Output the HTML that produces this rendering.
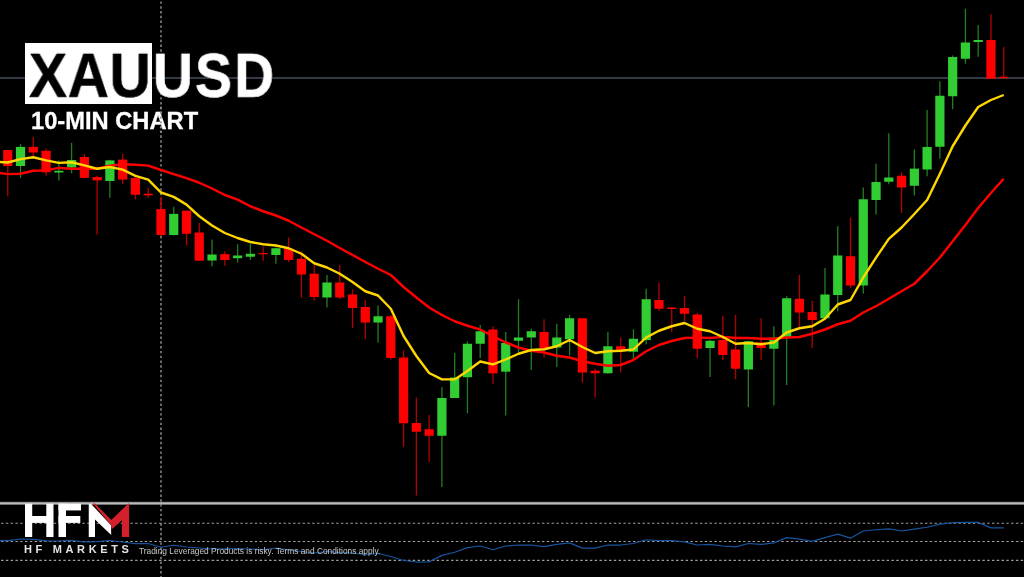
<!DOCTYPE html>
<html><head><meta charset="utf-8"><title>XAUUSD</title>
<style>
html,body{margin:0;padding:0;background:#000;}
body{width:1024px;height:577px;overflow:hidden;position:relative;font-family:"Liberation Sans",sans-serif;}
svg{position:absolute;left:0;top:0;}
.box{position:absolute;left:24.7px;top:43px;width:127.7px;height:60.6px;background:#fff;}
.t{position:absolute;font-weight:bold;white-space:nowrap;line-height:1;transform-origin:0 0;transform:translateZ(0);will-change:transform;}
#xau{left:28.5px;top:45.1px;font-size:60px;color:#000;-webkit-text-stroke:0.5px #000;letter-spacing:0.7px;transform:scale(0.95,1.043);}
#usd{left:152.6px;top:45.1px;font-size:60px;color:#fff;-webkit-text-stroke:0.6px #fff;letter-spacing:2.4px;transform:scale(0.92,1.043);}
#sub{left:30.9px;top:109.7px;font-size:23.7px;color:#fff;-webkit-text-stroke:0.3px #fff;}
#hfm{left:23.8px;top:543.8px;font-size:11px;color:#e4e4e4;letter-spacing:3.65px;}
#disc{left:138.6px;top:546.6px;font-size:8.35px;color:#c8c8c8;font-weight:normal;}
</style></head><body>
<svg width="1024" height="577" viewBox="0 0 1024 577">
<defs><clipPath id="low"><rect x="0" y="500" width="1024" height="77"/></clipPath></defs>
<rect width="1024" height="577" fill="#000"/>
<line x1="0" y1="78" x2="1024" y2="78" stroke="#66748a" stroke-width="1.05"/>
<line x1="161" y1="0" x2="161" y2="577" stroke="#8c8c8c" stroke-width="1.5" stroke-dasharray="2.4 2.387" stroke-dashoffset="-1.46"/>
<line x1="7.75" y1="150.00" x2="7.75" y2="196.25" stroke="#b40000" stroke-width="1.3"/>
<rect x="3.15" y="150.00" width="9.2" height="16.00" fill="#ff0000"/>
<line x1="20.52" y1="144.10" x2="20.52" y2="177.90" stroke="#208020" stroke-width="1.3"/>
<rect x="15.92" y="146.90" width="9.2" height="19.10" fill="#32cd32"/>
<line x1="33.29" y1="137.00" x2="33.29" y2="156.00" stroke="#b40000" stroke-width="1.3"/>
<rect x="28.69" y="146.90" width="9.2" height="5.60" fill="#ff0000"/>
<line x1="46.06" y1="148.25" x2="46.06" y2="175.75" stroke="#b40000" stroke-width="1.3"/>
<rect x="41.46" y="150.75" width="9.2" height="21.50" fill="#ff0000"/>
<line x1="58.83" y1="160.40" x2="58.83" y2="180.40" stroke="#208020" stroke-width="1.3"/>
<rect x="54.23" y="170.75" width="9.2" height="1.75" fill="#32cd32"/>
<line x1="71.59" y1="142.90" x2="71.59" y2="173.25" stroke="#208020" stroke-width="1.3"/>
<rect x="67.00" y="160.00" width="9.2" height="7.50" fill="#32cd32"/>
<line x1="84.36" y1="154.10" x2="84.36" y2="177.90" stroke="#b40000" stroke-width="1.3"/>
<rect x="79.76" y="157.00" width="9.2" height="20.90" fill="#ff0000"/>
<line x1="97.13" y1="175.75" x2="97.13" y2="234.50" stroke="#b40000" stroke-width="1.3"/>
<rect x="92.53" y="177.00" width="9.2" height="3.40" fill="#ff0000"/>
<line x1="109.90" y1="159.75" x2="109.90" y2="197.70" stroke="#208020" stroke-width="1.3"/>
<rect x="105.30" y="160.40" width="9.2" height="20.60" fill="#32cd32"/>
<line x1="122.67" y1="154.00" x2="122.67" y2="184.30" stroke="#b40000" stroke-width="1.3"/>
<rect x="118.07" y="159.60" width="9.2" height="20.00" fill="#ff0000"/>
<line x1="135.44" y1="177.00" x2="135.44" y2="199.40" stroke="#b40000" stroke-width="1.3"/>
<rect x="130.84" y="178.10" width="9.2" height="16.65" fill="#ff0000"/>
<line x1="148.21" y1="188.10" x2="148.21" y2="197.75" stroke="#b40000" stroke-width="1.3"/>
<rect x="143.61" y="193.75" width="9.2" height="1.65" fill="#ff0000"/>
<line x1="160.98" y1="197.20" x2="160.98" y2="236.00" stroke="#b40000" stroke-width="1.7"/>
<rect x="156.38" y="209.10" width="9.2" height="25.90" fill="#ff0000"/>
<line x1="173.75" y1="206.80" x2="173.75" y2="235.50" stroke="#208020" stroke-width="1.3"/>
<rect x="169.15" y="213.90" width="9.2" height="21.10" fill="#32cd32"/>
<line x1="186.52" y1="210.70" x2="186.52" y2="245.50" stroke="#b40000" stroke-width="1.3"/>
<rect x="181.92" y="210.70" width="9.2" height="23.05" fill="#ff0000"/>
<line x1="199.28" y1="223.00" x2="199.28" y2="260.75" stroke="#b40000" stroke-width="1.3"/>
<rect x="194.69" y="232.50" width="9.2" height="28.25" fill="#ff0000"/>
<line x1="212.05" y1="239.50" x2="212.05" y2="266.25" stroke="#208020" stroke-width="1.3"/>
<rect x="207.45" y="254.50" width="9.2" height="6.00" fill="#32cd32"/>
<line x1="224.82" y1="251.25" x2="224.82" y2="265.75" stroke="#b40000" stroke-width="1.3"/>
<rect x="220.22" y="254.10" width="9.2" height="5.90" fill="#ff0000"/>
<line x1="237.59" y1="244.25" x2="237.59" y2="262.50" stroke="#208020" stroke-width="1.3"/>
<rect x="232.99" y="255.50" width="9.2" height="2.75" fill="#32cd32"/>
<line x1="250.36" y1="243.75" x2="250.36" y2="260.00" stroke="#208020" stroke-width="1.3"/>
<rect x="245.76" y="253.75" width="9.2" height="3.00" fill="#32cd32"/>
<line x1="263.13" y1="246.25" x2="263.13" y2="260.75" stroke="#b40000" stroke-width="1.3"/>
<rect x="258.53" y="253.00" width="9.2" height="1.25" fill="#ff0000"/>
<line x1="275.90" y1="247.50" x2="275.90" y2="263.75" stroke="#208020" stroke-width="1.3"/>
<rect x="271.30" y="248.25" width="9.2" height="6.75" fill="#32cd32"/>
<line x1="288.67" y1="237.50" x2="288.67" y2="262.00" stroke="#b40000" stroke-width="1.3"/>
<rect x="284.07" y="248.75" width="9.2" height="11.25" fill="#ff0000"/>
<line x1="301.44" y1="251.25" x2="301.44" y2="298.00" stroke="#b40000" stroke-width="1.3"/>
<rect x="296.84" y="258.75" width="9.2" height="15.75" fill="#ff0000"/>
<line x1="314.21" y1="265.00" x2="314.21" y2="300.75" stroke="#b40000" stroke-width="1.3"/>
<rect x="309.61" y="273.75" width="9.2" height="23.25" fill="#ff0000"/>
<line x1="326.98" y1="275.00" x2="326.98" y2="307.50" stroke="#208020" stroke-width="1.3"/>
<rect x="322.38" y="282.50" width="9.2" height="15.00" fill="#32cd32"/>
<line x1="339.74" y1="265.00" x2="339.74" y2="299.25" stroke="#b40000" stroke-width="1.3"/>
<rect x="335.14" y="282.50" width="9.2" height="15.00" fill="#ff0000"/>
<line x1="352.51" y1="289.50" x2="352.51" y2="328.00" stroke="#b40000" stroke-width="1.3"/>
<rect x="347.91" y="294.50" width="9.2" height="13.50" fill="#ff0000"/>
<line x1="365.28" y1="300.00" x2="365.28" y2="339.25" stroke="#b40000" stroke-width="1.3"/>
<rect x="360.68" y="307.00" width="9.2" height="15.50" fill="#ff0000"/>
<line x1="378.05" y1="305.50" x2="378.05" y2="342.50" stroke="#208020" stroke-width="1.3"/>
<rect x="373.45" y="316.25" width="9.2" height="6.25" fill="#32cd32"/>
<line x1="390.82" y1="315.00" x2="390.82" y2="359.40" stroke="#b40000" stroke-width="1.3"/>
<rect x="386.22" y="316.25" width="9.2" height="41.75" fill="#ff0000"/>
<line x1="403.59" y1="350.50" x2="403.59" y2="447.00" stroke="#b40000" stroke-width="1.3"/>
<rect x="398.99" y="357.50" width="9.2" height="65.75" fill="#ff0000"/>
<line x1="416.36" y1="397.50" x2="416.36" y2="495.50" stroke="#b40000" stroke-width="1.3"/>
<rect x="411.76" y="423.00" width="9.2" height="8.75" fill="#ff0000"/>
<line x1="429.13" y1="415.00" x2="429.13" y2="462.00" stroke="#b40000" stroke-width="1.3"/>
<rect x="424.53" y="429.25" width="9.2" height="6.50" fill="#ff0000"/>
<line x1="441.90" y1="387.25" x2="441.90" y2="487.00" stroke="#208020" stroke-width="1.3"/>
<rect x="437.30" y="398.00" width="9.2" height="37.75" fill="#32cd32"/>
<line x1="454.67" y1="352.90" x2="454.67" y2="398.00" stroke="#208020" stroke-width="1.3"/>
<rect x="450.06" y="377.50" width="9.2" height="20.50" fill="#32cd32"/>
<line x1="467.43" y1="341.50" x2="467.43" y2="413.25" stroke="#208020" stroke-width="1.3"/>
<rect x="462.83" y="343.75" width="9.2" height="33.50" fill="#32cd32"/>
<line x1="480.20" y1="325.00" x2="480.20" y2="358.10" stroke="#208020" stroke-width="1.3"/>
<rect x="475.60" y="331.25" width="9.2" height="12.50" fill="#32cd32"/>
<line x1="492.97" y1="326.25" x2="492.97" y2="383.75" stroke="#b40000" stroke-width="1.3"/>
<rect x="488.37" y="329.50" width="9.2" height="43.90" fill="#ff0000"/>
<line x1="505.74" y1="332.00" x2="505.74" y2="415.50" stroke="#208020" stroke-width="1.3"/>
<rect x="501.14" y="343.00" width="9.2" height="28.70" fill="#32cd32"/>
<line x1="518.51" y1="299.25" x2="518.51" y2="352.50" stroke="#208020" stroke-width="1.3"/>
<rect x="513.91" y="337.50" width="9.2" height="3.25" fill="#32cd32"/>
<line x1="531.28" y1="328.75" x2="531.28" y2="370.00" stroke="#208020" stroke-width="1.3"/>
<rect x="526.68" y="331.25" width="9.2" height="6.25" fill="#32cd32"/>
<line x1="544.05" y1="319.25" x2="544.05" y2="357.50" stroke="#b40000" stroke-width="1.3"/>
<rect x="539.45" y="332.00" width="9.2" height="16.00" fill="#ff0000"/>
<line x1="556.82" y1="323.75" x2="556.82" y2="367.00" stroke="#208020" stroke-width="1.3"/>
<rect x="552.22" y="337.50" width="9.2" height="10.00" fill="#32cd32"/>
<line x1="569.59" y1="315.00" x2="569.59" y2="355.50" stroke="#208020" stroke-width="1.3"/>
<rect x="564.99" y="318.25" width="9.2" height="21.00" fill="#32cd32"/>
<line x1="582.36" y1="318.25" x2="582.36" y2="382.50" stroke="#b40000" stroke-width="1.3"/>
<rect x="577.75" y="318.25" width="9.2" height="54.25" fill="#ff0000"/>
<line x1="595.12" y1="368.75" x2="595.12" y2="397.50" stroke="#b40000" stroke-width="1.3"/>
<rect x="590.52" y="370.75" width="9.2" height="2.50" fill="#ff0000"/>
<line x1="607.89" y1="331.75" x2="607.89" y2="373.75" stroke="#208020" stroke-width="1.3"/>
<rect x="603.29" y="346.25" width="9.2" height="27.00" fill="#32cd32"/>
<line x1="620.66" y1="337.50" x2="620.66" y2="372.50" stroke="#b40000" stroke-width="1.3"/>
<rect x="616.06" y="346.25" width="9.2" height="3.75" fill="#ff0000"/>
<line x1="633.43" y1="329.25" x2="633.43" y2="358.75" stroke="#208020" stroke-width="1.3"/>
<rect x="628.83" y="338.75" width="9.2" height="13.00" fill="#32cd32"/>
<line x1="646.20" y1="288.75" x2="646.20" y2="344.25" stroke="#208020" stroke-width="1.3"/>
<rect x="641.60" y="299.25" width="9.2" height="40.75" fill="#32cd32"/>
<line x1="658.97" y1="282.50" x2="658.97" y2="311.25" stroke="#b40000" stroke-width="1.3"/>
<rect x="654.37" y="300.00" width="9.2" height="8.75" fill="#ff0000"/>
<line x1="671.74" y1="307.00" x2="671.74" y2="332.00" stroke="#b40000" stroke-width="1.3"/>
<rect x="667.14" y="307.50" width="9.2" height="1.50" fill="#ff0000"/>
<line x1="684.51" y1="295.75" x2="684.51" y2="321.25" stroke="#b40000" stroke-width="1.3"/>
<rect x="679.91" y="308.00" width="9.2" height="5.75" fill="#ff0000"/>
<line x1="697.28" y1="313.00" x2="697.28" y2="358.00" stroke="#b40000" stroke-width="1.3"/>
<rect x="692.68" y="314.50" width="9.2" height="34.25" fill="#ff0000"/>
<line x1="710.04" y1="340.00" x2="710.04" y2="377.00" stroke="#208020" stroke-width="1.3"/>
<rect x="705.44" y="340.75" width="9.2" height="7.25" fill="#32cd32"/>
<line x1="722.81" y1="315.75" x2="722.81" y2="360.00" stroke="#b40000" stroke-width="1.3"/>
<rect x="718.21" y="340.00" width="9.2" height="15.00" fill="#ff0000"/>
<line x1="735.58" y1="315.00" x2="735.58" y2="379.25" stroke="#b40000" stroke-width="1.3"/>
<rect x="730.98" y="349.50" width="9.2" height="19.25" fill="#ff0000"/>
<line x1="748.35" y1="340.75" x2="748.35" y2="407.00" stroke="#208020" stroke-width="1.3"/>
<rect x="743.75" y="341.25" width="9.2" height="28.25" fill="#32cd32"/>
<line x1="761.12" y1="318.25" x2="761.12" y2="360.00" stroke="#b40000" stroke-width="1.3"/>
<rect x="756.52" y="342.50" width="9.2" height="5.50" fill="#ff0000"/>
<line x1="773.89" y1="326.25" x2="773.89" y2="405.50" stroke="#208020" stroke-width="1.3"/>
<rect x="769.29" y="337.60" width="9.2" height="11.15" fill="#32cd32"/>
<line x1="786.66" y1="296.25" x2="786.66" y2="385.00" stroke="#208020" stroke-width="1.3"/>
<rect x="782.06" y="298.25" width="9.2" height="39.25" fill="#32cd32"/>
<line x1="799.43" y1="275.00" x2="799.43" y2="327.50" stroke="#b40000" stroke-width="1.3"/>
<rect x="794.83" y="298.75" width="9.2" height="13.75" fill="#ff0000"/>
<line x1="812.20" y1="300.75" x2="812.20" y2="348.00" stroke="#b40000" stroke-width="1.3"/>
<rect x="807.60" y="312.00" width="9.2" height="8.00" fill="#ff0000"/>
<line x1="824.97" y1="268.00" x2="824.97" y2="318.25" stroke="#208020" stroke-width="1.3"/>
<rect x="820.37" y="294.50" width="9.2" height="23.75" fill="#32cd32"/>
<line x1="837.74" y1="226.25" x2="837.74" y2="311.25" stroke="#208020" stroke-width="1.3"/>
<rect x="833.13" y="255.50" width="9.2" height="39.50" fill="#32cd32"/>
<line x1="850.50" y1="217.50" x2="850.50" y2="288.00" stroke="#b40000" stroke-width="1.3"/>
<rect x="845.90" y="256.25" width="9.2" height="29.25" fill="#ff0000"/>
<line x1="863.27" y1="187.50" x2="863.27" y2="293.75" stroke="#208020" stroke-width="1.3"/>
<rect x="858.67" y="199.25" width="9.2" height="86.25" fill="#32cd32"/>
<line x1="876.04" y1="163.75" x2="876.04" y2="214.50" stroke="#208020" stroke-width="1.3"/>
<rect x="871.44" y="182.00" width="9.2" height="18.00" fill="#32cd32"/>
<line x1="888.81" y1="133.25" x2="888.81" y2="184.25" stroke="#208020" stroke-width="1.3"/>
<rect x="884.21" y="177.50" width="9.2" height="4.25" fill="#32cd32"/>
<line x1="901.58" y1="172.50" x2="901.58" y2="213.00" stroke="#b40000" stroke-width="1.3"/>
<rect x="896.98" y="175.75" width="9.2" height="11.75" fill="#ff0000"/>
<line x1="914.35" y1="149.50" x2="914.35" y2="195.60" stroke="#208020" stroke-width="1.3"/>
<rect x="909.75" y="168.60" width="9.2" height="17.15" fill="#32cd32"/>
<line x1="927.12" y1="110.00" x2="927.12" y2="176.25" stroke="#208020" stroke-width="1.3"/>
<rect x="922.52" y="147.00" width="9.2" height="22.50" fill="#32cd32"/>
<line x1="939.89" y1="81.25" x2="939.89" y2="158.75" stroke="#208020" stroke-width="1.3"/>
<rect x="935.29" y="95.75" width="9.2" height="51.00" fill="#32cd32"/>
<line x1="952.66" y1="55.50" x2="952.66" y2="109.25" stroke="#208020" stroke-width="1.3"/>
<rect x="948.06" y="57.00" width="9.2" height="39.25" fill="#32cd32"/>
<line x1="965.42" y1="8.75" x2="965.42" y2="63.75" stroke="#208020" stroke-width="1.3"/>
<rect x="960.82" y="42.50" width="9.2" height="16.25" fill="#32cd32"/>
<line x1="978.19" y1="25.00" x2="978.19" y2="56.75" stroke="#208020" stroke-width="1.3"/>
<rect x="973.59" y="40.00" width="9.2" height="2.00" fill="#32cd32"/>
<line x1="990.96" y1="14.25" x2="990.96" y2="78.75" stroke="#b40000" stroke-width="1.3"/>
<rect x="986.36" y="40.00" width="9.2" height="38.75" fill="#ff0000"/>
<line x1="1003.73" y1="47.00" x2="1003.73" y2="78.25" stroke="#b40000" stroke-width="1.3"/>
<rect x="999.13" y="76.75" width="9.2" height="1.50" fill="#ff0000"/>
<polyline points="0,172.9 7.75,174.1 20.52,173.75 33.29,170.75 46.06,170.4 58.83,167.9 71.59,168.75 84.36,168.75 97.13,168.75 109.90,165.75 122.67,164.1 135.44,164.75 148.21,165.6 160.98,170 173.75,174.1 186.52,178.1 199.28,182.75 212.05,188.5 224.82,195 237.59,199.6 250.36,206.25 263.13,211.25 275.90,215.5 288.67,220.75 301.44,227.5 314.21,234.25 326.98,240.75 339.74,248 352.51,255 365.28,262 378.05,268.75 390.82,275 403.59,287 416.36,297.5 429.13,307.5 441.90,315 454.67,321.25 467.43,325.75 480.20,329.5 492.97,336.25 505.74,342.5 518.51,347.5 531.28,350.75 544.05,352.5 556.82,355.75 569.59,357.5 582.36,361.25 595.12,363.75 607.89,365.75 620.66,365 633.43,360 646.20,351.25 658.97,345 671.74,341 684.51,338 697.28,337.6 710.04,338 722.81,336.9 735.58,338 748.35,338 761.12,338.75 773.89,338.75 786.66,337.5 799.43,337 812.20,333.75 824.97,329.5 837.74,324.25 850.50,320.75 863.27,312.5 876.04,306.25 888.81,298.75 901.58,291.25 914.35,283.75 927.12,271.25 939.89,257.5 952.66,241.25 965.42,225 978.19,208 990.96,193 1003.73,178.75" fill="none" stroke="#ff0000" stroke-width="2.45" stroke-linejoin="round"/>
<polyline points="0,162 7.75,162.5 20.52,159.1 33.29,157.25 46.06,160.4 58.83,162.9 71.59,162.25 84.36,165.4 97.13,168.75 109.90,167 122.67,169.6 135.44,175.9 148.21,179.6 160.98,192.5 173.75,196.9 186.52,204.6 199.28,216.25 212.05,225.5 224.82,233 237.59,238 250.36,242 263.13,244.25 275.90,245.5 288.67,248.25 301.44,253.75 314.21,263.25 326.98,267.5 339.74,273.75 352.51,282 365.28,291.25 378.05,295.5 390.82,308.75 403.59,336 416.36,356 429.13,373 441.90,379.4 454.67,379.4 467.43,371 480.20,361.5 492.97,364.4 505.74,359.5 518.51,353.75 531.28,350 544.05,349.25 556.82,346.25 569.59,340 582.36,347 595.12,353 607.89,351.25 620.66,350.75 633.43,349.5 646.20,337.5 658.97,330.75 671.74,326.25 684.51,323 697.28,328.75 710.04,331.25 722.81,337 735.58,343.75 748.35,343 761.12,344.25 773.89,342.5 786.66,332.5 799.43,328.25 812.20,326.25 824.97,318.75 837.74,304.5 850.50,300 863.27,277.5 876.04,257.6 888.81,238.85 901.58,227.5 914.35,214 927.12,200 939.89,173.75 952.66,146.25 965.42,125.5 978.19,107 990.96,100 1003.73,95" fill="none" stroke="#ffd700" stroke-width="2.4" stroke-linejoin="round"/>
<rect x="0" y="500" width="1024" height="77" fill="#000"/>
<line x1="0" y1="503.35" x2="1024" y2="503.35" stroke="#707070" stroke-width="3.1"/>
<line x1="0" y1="503.35" x2="1024" y2="503.35" stroke="#bcbcbc" stroke-width="1.5"/>
<line x1="161" y1="0" x2="161" y2="577" stroke="#8c8c8c" stroke-width="1.5" stroke-dasharray="2.4 2.387" stroke-dashoffset="-1.46" clip-path="url(#low)"/>
<line x1="0" y1="523.2" x2="1024" y2="523.2" stroke="#a0a0a0" stroke-width="1.1" stroke-dasharray="2.4 2.387" stroke-dashoffset="-1.08"/>
<line x1="0" y1="541.45" x2="1024" y2="541.45" stroke="#a0a0a0" stroke-width="1.1" stroke-dasharray="2.4 2.387" stroke-dashoffset="-1.08"/>
<line x1="0" y1="560.35" x2="1024" y2="560.35" stroke="#a0a0a0" stroke-width="1.1" stroke-dasharray="2.4 2.387" stroke-dashoffset="-1.08"/>
<polyline points="0,540.7 7.75,540.7 20.52,539 33.29,539.3 46.06,540.8 58.83,541 71.59,540.4 84.36,542 97.13,541.6 109.90,540.5 122.67,542 135.44,543.6 148.21,543.5 160.98,547.25 173.75,545.25 186.52,547 199.28,548 212.05,549 224.82,548.8 237.59,548.5 250.36,549 263.13,549.75 275.90,548 288.67,550 301.44,551.5 314.21,553 326.98,551.5 339.74,552.5 352.51,553 365.28,554.75 378.05,553.5 390.82,556.5 403.59,560.5 416.36,562 429.13,561.9 441.90,555.4 454.67,552.25 467.43,547.6 480.20,546 492.97,549.75 505.74,546 518.51,545 531.28,545 544.05,546.6 556.82,544.4 569.59,542.9 582.36,548.2 595.12,548.2 607.89,545 620.66,545 633.43,543.5 646.20,539.75 658.97,540.7 671.74,540.7 684.51,541.9 697.28,545 710.04,544.4 722.81,546 735.58,546.9 748.35,543.5 761.12,544.4 773.89,542.9 786.66,537.6 799.43,539.1 812.20,541.3 824.97,537.6 837.74,534.1 850.50,538.2 863.27,531 876.04,529.75 888.81,528.8 901.58,531 914.35,529.1 927.12,527.25 939.89,524.1 952.66,522.7 965.42,522.4 978.19,522.4 990.96,527.9 1003.73,527.9" fill="none" stroke="#18549e" stroke-width="1.25" stroke-linejoin="round"/>
<!-- HFM logo -->
<g fill="#fff">
<rect x="25" y="503.75" width="7.2" height="33.25"/>
<rect x="46.3" y="503.75" width="7.2" height="33.25"/>
<rect x="25" y="516" width="28" height="6.9"/>
<rect x="58.5" y="503.75" width="7.5" height="33.25"/>
<rect x="58.5" y="503.75" width="22.5" height="6.7"/>
<rect x="58.5" y="516" width="21.8" height="6.9"/>
<polygon points="88.75,503.9 91.1,503.9 111,525.2 111.2,534.9 95,519.6 95,537 88.75,537"/>
</g>
<polygon fill="#d3202c" points="93,503.6 95.1,503.6 111.25,519.9 128.4,503.5 129.1,503.5 129.1,537 121.9,537 121.9,520.2 111.55,529.6 111.1,525.2"/>
</svg>
<div class="box"></div>
<div class="t" id="xau">XAU</div>
<div class="t" id="usd">USD</div>
<div class="t" id="sub">10-MIN CHART</div>
<svg width="1024" height="577" viewBox="0 0 1024 577" style="z-index:5;pointer-events:none"><defs><clipPath id="subc"><rect x="150" y="106" width="30" height="30"/></clipPath></defs><line x1="161" y1="0" x2="161" y2="577" stroke="#8c8c8c" stroke-width="1.5" stroke-dasharray="2.4 2.387" stroke-dashoffset="-1.46" clip-path="url(#subc)"/></svg>
<div class="t" id="hfm">HF MARKETS</div>
<div class="t" id="disc">Trading Leveraged Products is risky. Terms and Conditions apply.</div>
</body></html>
